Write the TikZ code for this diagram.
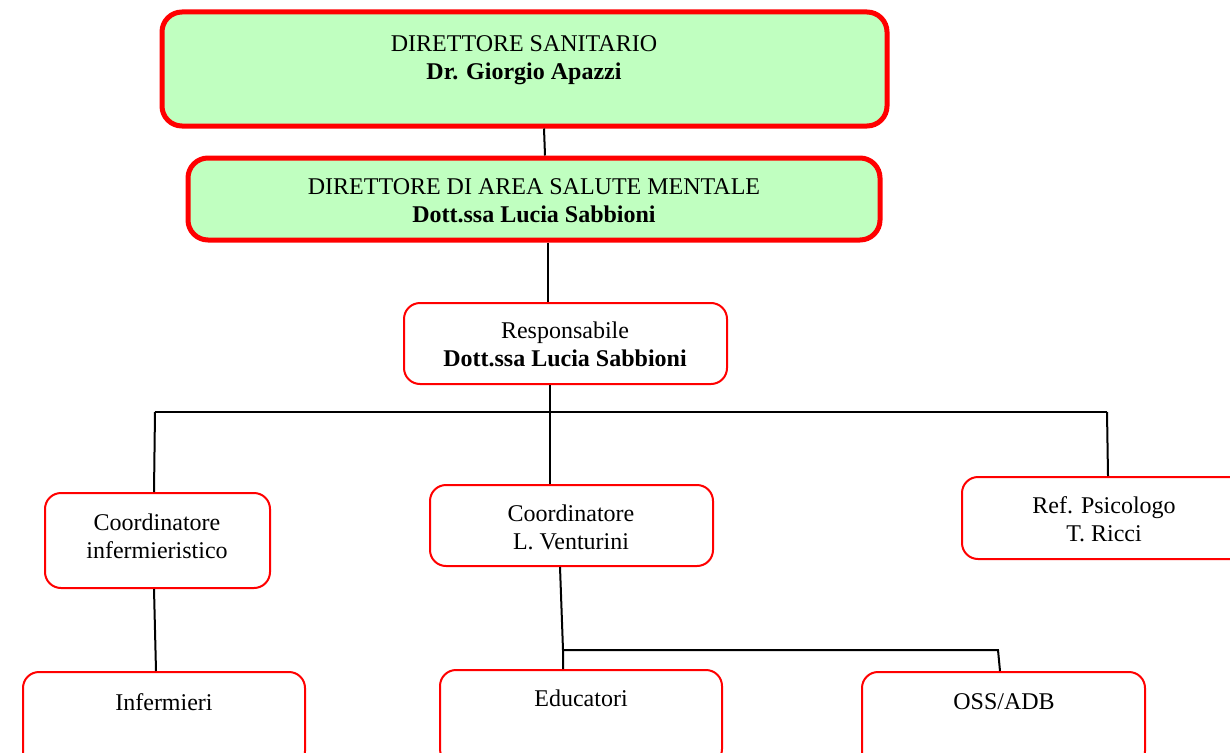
\documentclass[tikz,border=0pt]{standalone}
\usepackage{fontspec}
\setmainfont{Liberation Serif}
\definecolor{boxgreen}{HTML}{C0FFC0}
\definecolor{boxred}{HTML}{FF0000}
\begin{document}
\begin{tikzpicture}[x=1pt,y=-1pt,
  topbox/.style={draw=boxred,line width=5pt,fill=boxgreen,rounded corners=20pt,inner sep=0pt},
  unitbox/.style={draw=boxred,line width=2pt,fill=white,rounded corners=16pt,inner sep=0pt},
  label/.style={font=\fontsize{24}{28}\selectfont,align=center,anchor=base,inner sep=0pt},
  link/.style={draw=black,line width=2pt}]
\useasboundingbox (0,0) rectangle (1230,752);
\clip (0,0) rectangle (1230,752);
% boxes
\node[topbox,minimum width=725pt,minimum height=114pt] (b1) at (524.5,69) {};
\node[topbox,minimum width=692pt,minimum height=82pt] (b2) at (534,199) {};
\node[unitbox,minimum width=323pt,minimum height=81pt] (b3) at (565.5,343.5) {};
\node[unitbox,minimum width=225pt,minimum height=95pt] (ci) at (157.5,540.5) {};
\node[unitbox,minimum width=283pt,minimum height=81pt] (cv) at (571.5,525.5) {};
\node[unitbox,minimum width=284pt,minimum height=82pt] (rp) at (1104,518) {};
\node[unitbox,minimum width=282pt,minimum height=95pt] (inf) at (164,719.5) {};
\node[unitbox,minimum width=282pt,minimum height=95pt] (edu) at (581,717.5) {};
\node[unitbox,minimum width=283pt,minimum height=95pt] (oss) at (1003.5,719.5) {};
% texts (base anchor = baseline of the last line)
\node[label] (t1) at (524,79) {DIRETTORE SANITARIO\\\textbf{Dr. Giorgio Apazzi}};
\node[label] (t2) at (534,222) {DIRETTORE DI AREA SALUTE MENTALE\\\textbf{Dott.ssa Lucia Sabbioni}};
\node[label] (t3) at (565,366) {Responsabile\\\textbf{Dott.ssa Lucia Sabbioni}};
\node[label] (t4) at (157,558) {Coordinatore\\infermieristico};
\node[label] (t5) at (571,549) {Coordinatore\\L. Venturini};
\node[label] (t6) at (1104,541) {Ref. Psicologo\\T. Ricci};
\node[label] (t7) at (164,710) {Infermieri};
\node[label] (t8) at (581,706) {Educatori};
\node[label] (t9) at (1004,709) {OSS/ADB};
% junctions
\coordinate (busL) at (155,412);
\coordinate (busM) at (550,412);
\coordinate (busR) at (1107,412);
\coordinate (j1) at (563,650);
\coordinate (j2) at (998,650);
% connectors
\draw[link] ([xshift=19.5pt]b1.south) -- ([xshift=11pt]b2.north);
\draw[link] ([xshift=14pt]b2.south) -- ([xshift=-17.5pt]b3.north);
\draw[link] ([xshift=-15.5pt]b3.south) -- (busM);
\draw[link] (busL) -- (busR);
\draw[link] (busL) -- ([xshift=-3.5pt]ci.north);
\draw[link] (busR) -- ([xshift=4pt]rp.north);
\draw[link] (busM) -- ([xshift=-21.5pt]cv.north);
\draw[link] ([xshift=-3.5pt]ci.south) -- ([xshift=-8pt]inf.north);
\draw[link] ([xshift=-11.5pt]cv.south) -- (j1) -- ([xshift=-18pt]edu.north);
\draw[link] (j1) -- (j2) -- ([xshift=-3.5pt]oss.north);
\end{tikzpicture}
\end{document}
